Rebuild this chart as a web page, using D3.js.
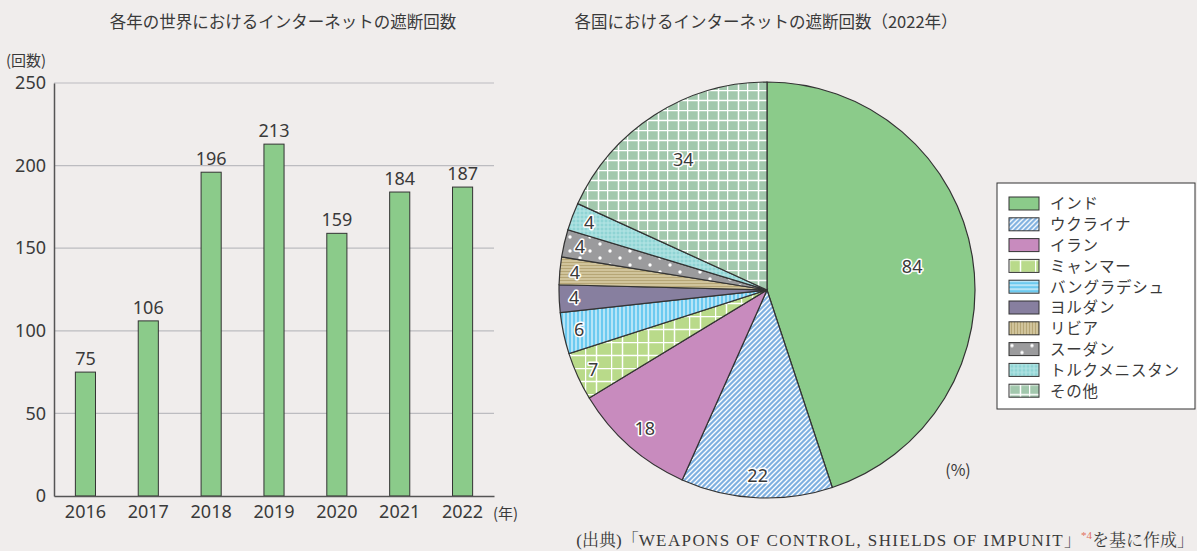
<!DOCTYPE html>
<html>
<head>
<meta charset="utf-8">
<script src="https://cdn.jsdelivr.net/npm/d3@7"></script>
<style>
  body { margin: 0; background: #f0edec; }
  svg { display: block; font-family: 'Noto Sans CJK JP', 'Noto Sans', sans-serif; }
</style>
</head>
<body>
<svg id="chart" width="1197" height="551"></svg>
<script>
// bar chart data
const years = ['2016', '2017', '2018', '2019', '2020', '2021', '2022']
const shutdowns = [75, 106, 196, 213, 159, 184, 187]
const yTicks = [0, 50, 100, 150, 200, 250]

// pie chart data (2022)
const countries = ['インド', 'ウクライナ', 'イラン', 'ミャンマー', 'バングラデシュ', 'ヨルダン', 'リビア', 'スーダン', 'トルクメニスタン', 'その他']
const counts = [84, 22, 18, 7, 6, 4, 4, 4, 4, 34]
const fills = ['#8bcb8a', '#7fb0e0', '#c88bbe', '#b9da8a', '#6ccaf0', '#877f9f', '#b6a676', '#9b9b9d', '#8fd4d4', '#a2c8ad']

const svg = d3.select('#chart')
const defs = svg.append('defs')

// patterns
function pattern (id, w, h, bg, draw) {
  const p = defs.append('pattern').attr('id', id)
    .attr('patternUnits', 'userSpaceOnUse')
    .attr('width', w).attr('height', h)
  p.append('rect').attr('width', w).attr('height', h).attr('fill', bg)
  draw(p)
}
const white = '#ffffff'
pattern('p1', 5, 5, fills[1], p => {
  p.append('path').attr('d', 'M-1,1 L1,-1 M0,5 L5,0 M4,6 L6,4').attr('stroke', white).attr('stroke-width', 1.3)
})
pattern('p3', 26, 26, fills[3], p => {
  p.append('path').attr('d', 'M0,0.5 H26 M0,13.5 H26 M0.5,0 V26 M11.5,0 V26').attr('stroke', white).attr('stroke-width', 1.5)
})
pattern('p4', 4, 10, fills[4], p => {
  p.append('path').attr('d', 'M1,0 V10').attr('stroke', white).attr('stroke-width', 1)
})
pattern('p4h', 10, 4, fills[4], p => {
  p.append('path').attr('d', 'M0,1 H10').attr('stroke', white).attr('stroke-width', 1)
})
pattern('p6', 10, 3, fills[6], p => {
  p.append('path').attr('d', 'M0,1 H10').attr('stroke', '#efe8c8').attr('stroke-width', 0.9)
})
pattern('p6v', 3, 10, fills[6], p => {
  p.append('path').attr('d', 'M1,0 V10').attr('stroke', '#efe8c8').attr('stroke-width', 0.9)
})
pattern('p7', 20, 14, fills[7], p => {
  p.append('circle').attr('cx', 3).attr('cy', 3).attr('r', 1.7).attr('fill', white)
  p.append('circle').attr('cx', 13).attr('cy', 10).attr('r', 1.7).attr('fill', white)
})
pattern('p8', 4, 4, fills[8], p => {
  p.append('path').attr('d', 'M0,1 H4 M1,0 V4').attr('stroke', '#b8e6e6').attr('stroke-width', 1)
})
pattern('p9', 20, 20, fills[9], p => {
  p.append('path').attr('d', 'M0,0.5 H20 M0,10.5 H20 M0.5,0 V20 M11.5,0 V20').attr('stroke', white).attr('stroke-width', 1.5)
})
const pieFill = (i) => ({ 1: 'url(#p1)', 3: 'url(#p3)', 4: 'url(#p4)', 6: 'url(#p6)', 7: 'url(#p7)', 8: 'url(#p8)', 9: 'url(#p9)' }[i] || fills[i])
const legendFill = (i) => ({ 1: 'url(#p1)', 3: 'url(#p3)', 4: 'url(#p4h)', 6: 'url(#p6v)', 7: 'url(#p7)', 8: 'url(#p8)', 9: 'url(#p9)' }[i] || fills[i])

const textColor = '#3a3a3a'
const numFont = "'Noto Sans', sans-serif"

// ---------- bar chart ----------
const x = d3.scaleBand().domain(years).range([54, 494]).paddingInner(0.68).paddingOuter(0.34)
const y = d3.scaleLinear().domain([0, 250]).range([496, 83])

svg.append('text')
  .attr('x', 283).attr('y', 28)
  .attr('text-anchor', 'middle')
  .attr('font-size', 16.5).attr('fill', textColor)
  .text('各年の世界におけるインターネットの遮断回数')

// grid
svg.append('g').selectAll('line')
  .data(yTicks.filter(d => d > 0))
  .join('line')
  .attr('x1', 54).attr('x2', 494)
  .attr('y1', d => y(d)).attr('y2', d => y(d))
  .attr('stroke', '#bcbcc0').attr('stroke-width', 1.2)

const yAxis = svg.append('g')
  .attr('transform', 'translate(54,0)')
  .call(d3.axisLeft(y).tickValues(yTicks).tickSize(0).tickPadding(8))
yAxis.select('.domain').attr('stroke', '#555').attr('stroke-width', 1.5)
yAxis.selectAll('text').attr('font-size', 18).attr('fill', textColor)
  .attr('font-family', numFont)

svg.append('text')
  .attr('x', 6).attr('y', 66)
  .attr('font-size', 15).attr('fill', textColor)
  .text('(回数)')

svg.selectAll('.bar')
  .data(years)
  .join('rect')
  .attr('class', 'bar')
  .attr('x', d => x(d))
  .attr('y', (d, i) => y(shutdowns[i]))
  .attr('width', x.bandwidth())
  .attr('height', (d, i) => y(0) - y(shutdowns[i]))
  .attr('fill', '#8bcb8a')
  .attr('stroke', '#333').attr('stroke-width', 1)

svg.selectAll('.barlabel')
  .data(years)
  .join('text')
  .attr('class', 'barlabel')
  .attr('x', d => x(d) + x.bandwidth() / 2)
  .attr('y', (d, i) => y(shutdowns[i]) - 7)
  .attr('text-anchor', 'middle')
  .attr('font-size', 18).attr('fill', textColor)
  .attr('font-family', numFont)
  .text((d, i) => shutdowns[i])

const xAxis = svg.append('g')
  .attr('transform', `translate(0,${y(0)})`)
  .call(d3.axisBottom(x).tickSize(0).tickPadding(9))
xAxis.select('.domain').attr('stroke', '#555').attr('stroke-width', 1.5)
xAxis.selectAll('text').attr('font-size', 18).attr('fill', textColor)
  .attr('font-family', numFont)

svg.append('text')
  .attr('x', 493).attr('y', 519)
  .attr('font-size', 15).attr('fill', textColor)
  .text('(年)')

// ---------- pie chart ----------
svg.append('text')
  .attr('x', 766).attr('y', 28)
  .attr('text-anchor', 'middle')
  .attr('font-size', 16.5).attr('fill', textColor)
  .text('各国におけるインターネットの遮断回数（2022年）')

const cx = 767
const cy = 290
const r = 208
const pie = d3.pie().sort(null).value(d => d)
const arcs = pie(counts)
const arc = d3.arc().innerRadius(0).outerRadius(r)
const pieG = svg.append('g').attr('transform', `translate(${cx},${cy})`)

pieG.selectAll('path')
  .data(arcs)
  .join('path')
  .attr('d', arc)
  .attr('fill', (d, i) => pieFill(i))
  .attr('stroke', '#333').attr('stroke-width', 1.2)

// label radii picked per slice
const labelR = [147, 186, 185, 191, 192, 193, 193, 192, 190, 155]
pieG.selectAll('.pielabel')
  .data(arcs)
  .join('text')
  .attr('class', 'pielabel')
  .attr('transform', (d, i) => {
    const a = (d.startAngle + d.endAngle) / 2
    return `translate(${Math.sin(a) * labelR[i]},${-Math.cos(a) * labelR[i]})`
  })
  .attr('text-anchor', 'middle')
  .attr('dy', '0.35em')
  .attr('font-size', 18)
  .attr('font-family', numFont)
  .attr('fill', textColor)
  .attr('stroke', '#fff').attr('stroke-width', 3).attr('paint-order', 'stroke')
  .attr('stroke-linejoin', 'round')
  .text(d => d.data)

svg.append('text')
  .attr('x', 958).attr('y', 476)
  .attr('text-anchor', 'middle')
  .attr('font-size', 16).attr('fill', textColor)
  .text('(%)')

// legend
const legend = svg.append('g').attr('transform', 'translate(997,183)')
legend.append('rect')
  .attr('width', 198).attr('height', 226)
  .attr('fill', '#fff').attr('stroke', '#333').attr('stroke-width', 1)

const item = legend.selectAll('.item')
  .data(countries)
  .join('g')
  .attr('class', 'item')
  .attr('transform', (d, i) => `translate(12,${14 + i * 20.8})`)
item.append('rect')
  .attr('width', 30).attr('height', 13)
  .attr('fill', (d, i) => legendFill(i))
  .attr('stroke', '#333').attr('stroke-width', 1)
item.append('text')
  .attr('x', 41).attr('y', 7)
  .attr('dy', '0.35em')
  .attr('font-size', 15.5).attr('fill', textColor)
  .attr('letter-spacing', 0.8)
  .text(d => d)

// source
const src = svg.append('text')
  .attr('x', 1194).attr('y', 546)
  .attr('text-anchor', 'end')
  .attr('font-size', 17)
  .attr('font-family', "'Liberation Serif', 'Noto Serif CJK JP', serif")
  .attr('fill', textColor)
src.append('tspan').text('(出典)「')
src.append('tspan').attr('letter-spacing', 1.4).text('WEAPONS OF CONTROL, SHIELDS OF IMPUNIT')
src.append('tspan').text('」')
src.append('tspan').attr('fill', '#e07060').attr('font-size', 11).attr('dy', -7).text('*4')
src.append('tspan').attr('dy', 7).text('を基に作成」')
</script>
</body>
</html>
